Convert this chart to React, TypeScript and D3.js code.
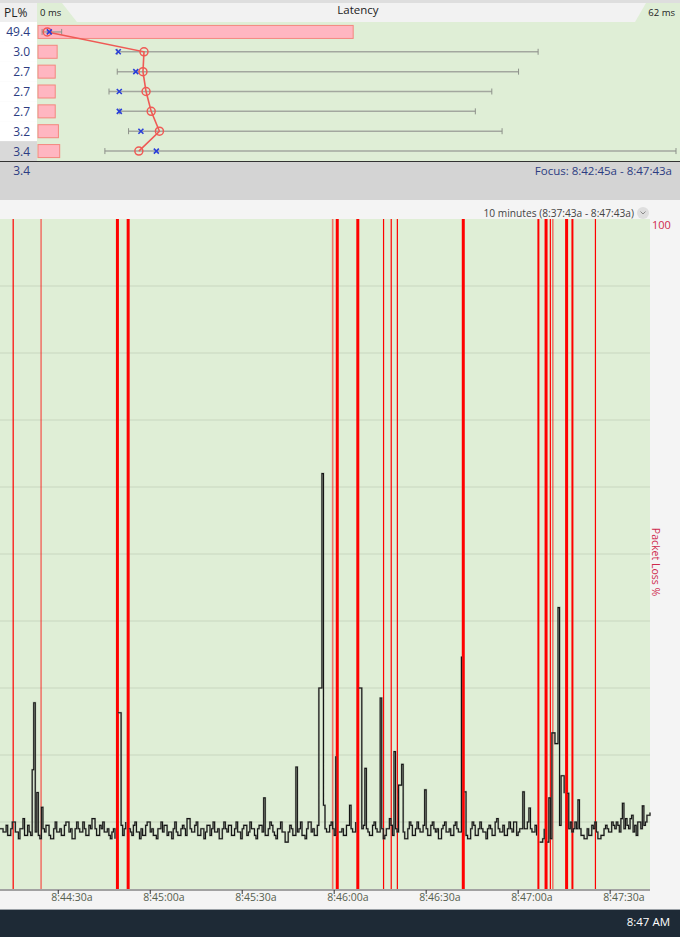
import { useEffect } from "react";
import * as d3 from "d3";

// hop table (top panel)
const hopLoss = [49.4, 3.0, 2.7, 2.7, 2.7, 3.2, 3.4];
const hopMin = [0.4, 7.7, 7.7, 6.9, 7.9, 8.8, 6.5];
const hopAvg = [0.9, 10.3, 10.2, 10.5, 11.0, 11.8, 9.8];
const hopCur = [1.1, 7.8, 9.5, 7.9, 7.9, 10.0, 11.5];
const hopMax = [2.3, 48.6, 46.7, 44.1, 42.5, 45.1, 62];
const latencyMaxMs = 62;

// timeline (bottom panel), one sample every 0.5 s from 8:44:11
const startTime = new Date(2024, 0, 1, 8, 44, 11);
const endTime = new Date(2024, 0, 1, 8, 47, 43);
const sampleSec = 0.5;
const latencyMs: (number | null)[] = [
  9, 9, 8.5, 8.5, 9.5, 8, 8, 9, 10, 10, 8.5, 8.5, 7.5, 9, 9, 10.5, 8, 8, 9.5, 8.5,
  8, 17.8, 27.8, 8.5, 14.4, 8, 7.5, 12.2, 9, 8.5, 9.5, 9.5, 8, 7.5, 7.5, 9, 10, 8.5, 8.5, 9,
  8, 8, 9.5, 10, 10, 8.5, 9, 7.5, 7.5, 9, 10, 9, 8.5, 8.5, 10, 9, 8, 8, 9.5, 9,
  10.5, 10.5, 9, 8, 8, 9.5, 9, 10, 8.5, 8.5, 9, 8, 7.5, 8.5, 9, 7.5, null, 26.3, 26.3, 9.5,
  8, 9, 10, null, 9, 8.5, 8, 9.5, 10, 8.5, 8.5, 7.5, 9, 8, 8, 9.5, 10, 10, 8.5, 9,
  8, 8, 7.5, 9, 9, 10, 8.5, 9.5, 9.5, 8, 8.5, 8.5, 7.5, 9, 10, 8.5, 8, 8, 9, 9.5,
  9, 8, 10.5, 10.5, 9, 8.5, 8.5, 9.5, 10, 8, 8, 9, 9, 7.5, 8.5, 9.5, 9.5, 8, 9, 10,
  8.5, 8.5, 9, 7.5, 7.5, 9, 10, 9, 8.5, 9.5, 9.5, 8, 8, 9, 10, 8.5, 8.5, 7.5, 9, 9.5,
  9.5, 8, 8.5, 10, 9, 9, 8, 7.5, 9, 9.5, 9.5, 8.5, 13.6, 8, 8, 9, 10, 9.5, 8.5, 8,
  7.5, 9, 9, 10, 8.5, 8.5, 7, 7, 8.5, 9.5, 9, 8, 8, 18.2, 8.5, 9, 10, 8, 8, 7.5,
  9, 10, 10, 8.5, 9, 8, 8, 9.5, 30, 30, 62, 12.5, 9, 8.5, 8.5, 9.5, 10, 9, 8, 19.8,
  null, 8.5, 8.5, 9, 8, 8, 9.5, 9.5, 12.5, 9, 8.5, 8.5, 10, null, 30, 30, 9, 9.5, 18, 9,
  8.5, 8, 8, 9.5, 10, 9, 8.5, 8.5, 28.5, 9, 7.5, 8, 9, 9, 10.5, 9.5, 8, 20.5, 9, 8.5,
  15.5, 15.5, 18.6, 8.5, 7.5, 7.5, 9, 10, 9.5, 8, 8, 9, 10, 9, 8.5, 8.5, 9.5, 14.8, 9, 8,
  8, 9.5, 10, 9, 8.5, 9, 7.5, 7.5, 9, 9.5, 10, 8.5, 8.5, 9, 8, 8, 9.5, 10, 9, 8.5,
  8.5, 34.7, null, 14.5, 8, 7.5, 7.5, 9, 10, 9.5, 8, 8, 9, 10, 9, 8.5, 8.5, 7.5, 9, 9.5,
  9, 8, 8, 10, 10.5, 9, 8.5, 8.5, 9.5, 8, 8, 9, 10, 9, 8.5, 10, 10, 8, 8.5, 9,
  9, 14.5, 9, 9, 10, 12.1, 9, 8.5, 8.5, 9.5, 8, null, 7, 7, 7.5, 9, null, 7, 13.6, 7.5,
  23.3, 23.3, 21.7, 21.7, 42, 9.5, 16.9, 16.9, 14.3, null, 14.3, 9, 10, 8.5, 9, 10, 9, 13.3, 9, 8,
  8, 7.5, 7.5, 9, 8, 8, 9.5, 9, 10, 8.5, 7.5, 7.5, 8, 8, 9, 9.5, 9, 8.5, 8.5, 10,
  9.5, 9, 10, 9.5, 8.5, 10.5, 12.8, 9, 10.5, 9.5, 9, 10.5, 11, 8.5, 9.5, 8, 10, 10, 9, 12.4,
  9.5, 10, 11, 11, 11.4,
];
// packet loss events: seconds after start, loss %
const lossSec = [4.3, 13.4, 38.3, 41.8, 108.5, 110.0, 116.7, 125.1, 127.6, 129.6, 151.1, 175.6, 178.1, 179.5, 180.3, 184.8, 186.7, 194.2];
const lossPct = [33, 20, 100, 100, 20, 100, 100, 33, 33, 33, 100, 67, 100, 33, 20, 100, 67, 33];

const W = 680;
const H = 937;
const FONT = "'Open Sans', 'Noto Sans', sans-serif";
const GREEN = "#dfeed6";
const NAVY = "#2c3c82";
const LOSS_RED = "#cf2a4e";

export default function App() {
  useEffect(() => {
    document.body.style.margin = "0";
  }, []);

  // top panel scales
  const rowY = d3.scaleBand<number>().domain(d3.range(hopLoss.length)).range([22, 161]);
  const latX = d3.scaleLinear().domain([0, latencyMaxMs]).range([38, 676]);
  const plX = d3.scaleLinear().domain([0, 100]).range([38, 676]);
  const cy = (i: number) => rowY(i)! + rowY.bandwidth() / 2;

  const avgLine = d3.line<number>().x((d) => latX(d)).y((_, i) => cy(i));

  // bottom panel scales
  const plotL = 0, plotR = 650, plotT = 219, plotB = 889;
  const tx = d3.scaleTime().domain([startTime, endTime]).range([plotL, plotR]);
  const yv = d3.scaleLinear().domain([0, 100]).range([plotB, plotT]);
  const secTime = (s: number) => new Date(startTime.getTime() + s * 1000);
  const trace = d3.line<number | null>()
    .defined((d) => d !== null)
    .x((_, i) => tx(secTime(i * sampleSec)))
    .y((d) => yv(d as number))
    .curve(d3.curveStepAfter);
  const lossWidth = d3.scaleThreshold<number, number>().domain([25, 50, 80]).range([1.6, 1.2, 2, 3]);
  const ticks = d3.timeSecond.every(30)!.range(startTime, endTime);
  const fmt = d3.timeFormat("%-I:%M:%S");
  const grid = d3.range(10, 100, 10);

  return (
    <svg width={W} height={H} style={{ position: "absolute", left: 0, top: 0, display: "block" }} fontFamily={FONT}>
      {/* top panel */}
      <rect x={0} y={0} width={W} height={H} fill="#f4f4f4" />
      <rect x={0} y={0} width={W} height={3} fill="#dedede" />
      <rect x={37} y={3} width={W - 37} height={158} fill={GREEN} />
      <rect x={0} y={3} width={37} height={19} fill="#efefef" />
      <text x={4} y={17} fontSize={12} fill="#222">PL%</text>
      <polygon points="62,3 646,3 635,22 77,22" fill="#f2f2f2" />
      <text x={40} y={16} fontSize={9.5} fill="#222">0 ms</text>
      <text x={358} y={14} fontSize={11.5} fill="#222" textAnchor="middle">Latency</text>
      <text x={675} y={16} fontSize={9.5} fill="#222" textAnchor="end">{`${latencyMaxMs} ms`}</text>

      {hopLoss.map((pl, i) => (
        <g key={i}>
          <rect x={0} y={rowY(i)} width={37} height={rowY.bandwidth()} fill={i === hopLoss.length - 1 ? "#d9d9d9" : "#ffffff"} />
          <text x={30} y={cy(i) + 4.5} fontSize={12} fill={NAVY} textAnchor="end">{pl.toFixed(1)}</text>
          <rect x={plX(0)} y={cy(i) - 6.5} width={plX(pl) - plX(0)} height={13} fill="#ffb6c1" stroke="#f4877f" strokeWidth={1} />
          <line x1={latX(hopMin[i])} x2={latX(hopMax[i])} y1={cy(i)} y2={cy(i)} stroke="#a3a79f" strokeWidth={1.5} />
          <line x1={latX(hopMin[i])} x2={latX(hopMin[i])} y1={cy(i) - 3} y2={cy(i) + 3} stroke="#8d918a" strokeWidth={1} />
          <line x1={latX(hopMax[i])} x2={latX(hopMax[i])} y1={cy(i) - 3} y2={cy(i) + 3} stroke="#8d918a" strokeWidth={1} />
        </g>
      ))}
      <path d={avgLine(hopAvg) ?? ""} fill="none" stroke="#ef5a55" strokeWidth={1.6} />
      {hopAvg.map((a, i) => (
        <circle key={i} cx={latX(a)} cy={cy(i)} r={4} fill="none" stroke="#ef5a55" strokeWidth={1.5} />
      ))}
      {hopCur.map((c, i) => (
        <path key={i} d={`M${latX(c) - 2.5},${cy(i) - 2.5}L${latX(c) + 2.5},${cy(i) + 2.5}M${latX(c) - 2.5},${cy(i) + 2.5}L${latX(c) + 2.5},${cy(i) - 2.5}`} stroke="#2a3fd8" strokeWidth={1.6} />
      ))}

      {/* summary band */}
      <rect x={0} y={161} width={W} height={39} fill="#d4d4d4" />
      <line x1={0} x2={W} y1={161.5} y2={161.5} stroke="#333" strokeWidth={1} />
      <text x={30} y={175} fontSize={12} fill={NAVY} textAnchor="end">{hopLoss[hopLoss.length - 1].toFixed(1)}</text>
      <text x={672} y={175} fontSize={11.5} fill={NAVY} textAnchor="end">Focus: 8:42:45a - 8:47:43a</text>

      {/* timeline header */}
      <text x={634} y={217} fontSize={10.2} fill="#444" textAnchor="end">10 minutes (8:37:43a - 8:47:43a)</text>
      <circle cx={643} cy={213} r={6} fill="#dedede" />
      <path d="M640.5,211.5L643,214L645.5,211.5" fill="none" stroke="#8a8a8a" strokeWidth={1} />

      {/* plot */}
      <rect x={plotL} y={plotT} width={plotR - plotL} height={plotB - plotT} fill={GREEN} />
      {grid.map((g) => (
        <line key={g} x1={plotL} x2={plotR} y1={yv(g)} y2={yv(g)} stroke="#c8d6bf" strokeWidth={1} />
      ))}
      {lossSec.map((s, i) => (
        <line key={i} x1={tx(secTime(s))} x2={tx(secTime(s))} y1={plotT} y2={plotB}
          stroke="#ff0000" strokeOpacity={lossPct[i] < 25 ? 0.5 : 1} strokeWidth={lossWidth(lossPct[i])} />
      ))}
      <path d={trace(latencyMs) ?? ""} fill="none" stroke="#7f857c" strokeWidth={2} strokeOpacity={0.5} />
      <path d={trace(latencyMs) ?? ""} fill="none" stroke="#151515" strokeWidth={1.1} />

      <text x={652} y={229} fontSize={11} fill={LOSS_RED}>100</text>
      <text transform={`translate(652,562) rotate(90)`} fontSize={10.5} fill={LOSS_RED} textAnchor="middle">Packet Loss %</text>

      {/* x axis */}
      <line x1={plotL} x2={plotR} y1={plotB + 1} y2={plotB + 1} stroke="#a2a2a2" strokeWidth={2} />
      {ticks.map((t, i) => (
        <g key={i}>
          <line x1={tx(t)} x2={tx(t)} y1={plotB + 1} y2={plotB + 5} stroke="#333" strokeWidth={1} />
          <text x={tx(t) - 7} y={plotB + 12} fontSize={10.5} fill="#56604f">{`${fmt(t)}a`}</text>
        </g>
      ))}

      {/* status bar */}
      <rect x={0} y={910} width={W} height={H - 910} fill="#1e2a36" />
      <line x1={0} x2={W} y1={909.5} y2={909.5} stroke="#9aa0a6" strokeWidth={1} />
      <text x={670} y={926} fontSize={11.5} fill="#ffffff" textAnchor="end">{`${fmt(endTime).slice(0, 4)} AM`}</text>
    </svg>
  );
}
